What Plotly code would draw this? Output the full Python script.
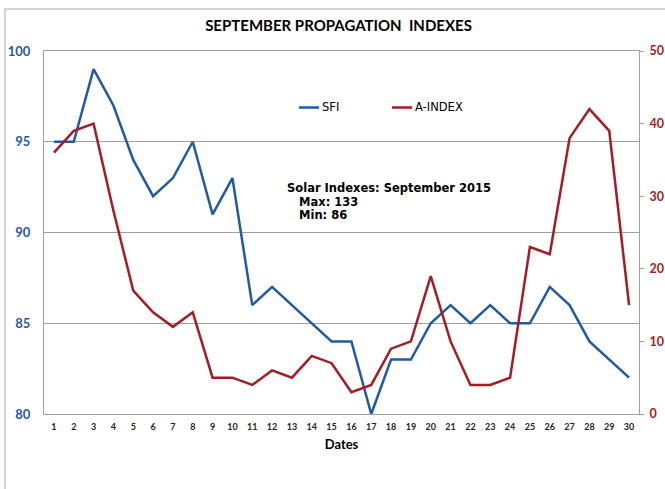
import plotly.graph_objects as go

days = list(range(1, 31))
sfi = [95, 95, 99, 97, 94, 92, 93, 95, 91, 93, 86, 87, 86, 85, 84, 84, 80, 83, 83, 85,
       86, 85, 86, 85, 85, 87, 86, 84, 83, 82]
a_index = [36, 39, 40, 28, 17, 14, 12, 14, 5, 5, 4, 6, 5, 8, 7, 3, 4, 9, 10, 19,
           10, 4, 4, 5, 23, 22, 38, 42, 39, 15]
tick_labels = [str(d) for d in days]
series_names = ["SFI", "A-INDEX"]
note_lines = ["Solar Indexes: September 2015", "   Max: 133", "   Min: 86"]

BLUE = "#1f5aa6"
RED = "#a51c24"
GRID = "#a0a0a0"

W, H = 665, 489
L, R, T, B = 44, 26, 51, 75
pw, ph = W - L - R, H - T - B


def px(xpix):
    return (xpix - L) / pw


def py(ypix):
    return (H - B - ypix) / ph


fig = go.Figure()
fig.add_trace(go.Scatter(x=days, y=sfi, mode="lines", name=series_names[0],
                         line=dict(color=BLUE, width=2.5)))
fig.add_trace(go.Scatter(x=days, y=a_index, mode="lines", name=series_names[1], yaxis="y2",
                         line=dict(color=RED, width=2.5)))

annotations = []
shapes = [
    dict(type="rect", xref="paper", yref="paper", x0=px(5), x1=px(690),
         y0=py(530), y1=py(9), line=dict(color="#c4c4c4", width=1.5),
         fillcolor="rgba(0,0,0,0)", layer="below"),
]

# manual legend
legend_items = [(series_names[0], BLUE, 299, 319), (series_names[1], RED, 392, 412)]
for name, col, x0, x1 in legend_items:
    shapes.append(dict(type="line", xref="paper", yref="paper", x0=px(x0), x1=px(x1),
                       y0=py(107.5), y1=py(107.5), line=dict(color=col, width=2.5)))
    annotations.append(dict(text=name, xref="paper", yref="paper", x=px(x1 + 1), y=py(107.5),
                            xanchor="left", yanchor="middle", showarrow=False,
                            font=dict(family="DejaVu Sans", size=11.5, color="black")))

for i, (txt, yy) in enumerate(zip(note_lines, [188, 201.5, 215])):
    annotations.append(dict(text="<b>" + txt.replace(" ", "&nbsp;") + "</b>", xref="paper",
                            yref="paper", x=px(285), y=py(yy), xanchor="left",
                            yanchor="middle", showarrow=False,
                            font=dict(family="DejaVu Sans", size=11.5, color="black")))

fig.update_layout(
    width=W, height=H,
    margin=dict(l=L, r=R, t=T, b=B, autoexpand=False),
    paper_bgcolor="white", plot_bgcolor="white",
    title=dict(text="<b>SEPTEMBER PROPAGATION  INDEXES</b>", x=338.5 / W, xanchor="center",
               y=1 - 26 / H, yanchor="middle",
               font=dict(family="Lato, sans-serif", size=15, color="black")),
    xaxis=dict(range=[0.5, 30.5], tickvals=days, ticktext=tick_labels, automargin=False,
               showgrid=False, zeroline=False, showline=True, linecolor=GRID,
               linewidth=1, mirror=True, ticks="outside", ticklen=4,
               tickcolor="rgba(0,0,0,0)",
               tickfont=dict(family="Lato", size=9, color="#222222", weight="bold"),
               title=dict(text="<b>Dates</b>", standoff=9,
                          font=dict(family="Lato", size=13, color="black"))),
    yaxis=dict(range=[80, 100], dtick=5, showgrid=True, gridcolor=GRID, gridwidth=1,
               automargin=False, zeroline=False, showline=True, linecolor=GRID,
               linewidth=1, ticks="outside", ticklen=10, tickcolor="rgba(0,0,0,0)",
               tickfont=dict(family="Lato", size=13, color=BLUE, weight="bold")),
    yaxis2=dict(range=[0, 50], dtick=10, overlaying="y", side="right", automargin=False,
                showgrid=False, zeroline=False, showline=True, linecolor=GRID,
                linewidth=1, ticks="outside", ticklen=4, tickcolor=GRID,
                ticklabelstandoff=3,
                tickfont=dict(family="Lato", size=12.5, color=RED, weight="bold")),
    showlegend=False,
    annotations=annotations,
    shapes=shapes,
)

fig.write_html("out.html", config={"displayModeBar": False},
               post_script="document.body.style.margin='0';document.body.style.overflow='hidden';")
